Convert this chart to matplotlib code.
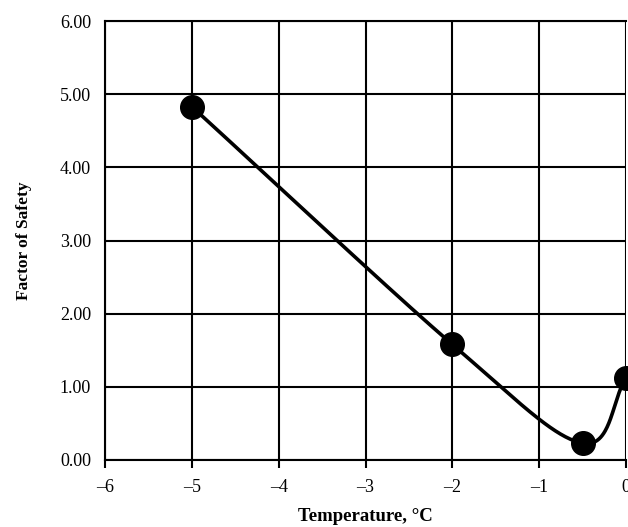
import numpy as np
import matplotlib.pyplot as plt

# data
temperature = [-5.0, -2.0, -0.5, 0.0]
factor_of_safety = [4.83, 1.58, 0.23, 1.12]
x_ticks = [-6, -5, -4, -3, -2, -1, 0]
y_ticks = [0, 1, 2, 3, 4, 5, 6]


def smooth(xs, ys, n=60):
    # Catmull-Rom style smoothing, like a "smoothed line" chart
    xs = np.asarray(xs, float)
    ys = np.asarray(ys, float)
    px = np.concatenate([[2 * xs[0] - xs[1]], xs, [2 * xs[-1] - xs[-2]]])
    py = np.concatenate([[2 * ys[0] - ys[1]], ys, [2 * ys[-1] - ys[-2]]])
    ox, oy = [], []
    t = np.linspace(0, 1, n)
    for i in range(1, len(px) - 2):
        p0, p1, p2, p3 = [np.array([px[j], py[j]]) for j in (i - 1, i, i + 1, i + 2)]
        b1 = p1 + (p2 - p0) / 6
        b2 = p2 - (p3 - p1) / 6
        c = ((1 - t) ** 3)[:, None] * p1 + (3 * (1 - t) ** 2 * t)[:, None] * b1 \
            + (3 * (1 - t) * t ** 2)[:, None] * b2 + (t ** 3)[:, None] * p2
        ox.extend(c[:, 0])
        oy.extend(c[:, 1])
    return ox, oy


plt.rcParams['font.family'] = ['Liberation Serif', 'DejaVu Serif']

fig = plt.figure(figsize=(6.28, 5.27), dpi=100)
ax = fig.add_axes([105 / 628, 1 - 460 / 527, 521 / 628, 439 / 527])

sx, sy = smooth(temperature, factor_of_safety)
ax.plot(sx, sy, color='black', lw=2.6, clip_on=False, zorder=3)
ax.plot(temperature, factor_of_safety, 'o', color='black', markersize=17,
        clip_on=False, zorder=4)

ax.set_xlim(-6, 0)
ax.set_ylim(0, 6)
ax.set_xticks(x_ticks)
ax.set_yticks(y_ticks)
ax.set_xticklabels([('\u2013' + str(-v)) if v < 0 else str(v) for v in x_ticks])
ax.set_yticklabels(['%.2f' % v for v in y_ticks])
ax.grid(True, color='black', lw=1.5)
ax.set_axisbelow(True)
for s in ax.spines.values():
    s.set_linewidth(1.5)
ax.spines['right'].set_visible(False)
ax.tick_params(axis='x', length=6, width=1.5, direction='out', labelsize=13, pad=8)
ax.tick_params(axis='y', length=0, labelsize=13, pad=10)

ax.set_xlabel('Temperature, \u00b0C', fontsize=13.5, fontweight='bold', labelpad=8)
ax.set_ylabel('Factor of Safety', fontsize=12.5, fontweight='bold', labelpad=20)

fig.savefig('out.png', dpi=100)
